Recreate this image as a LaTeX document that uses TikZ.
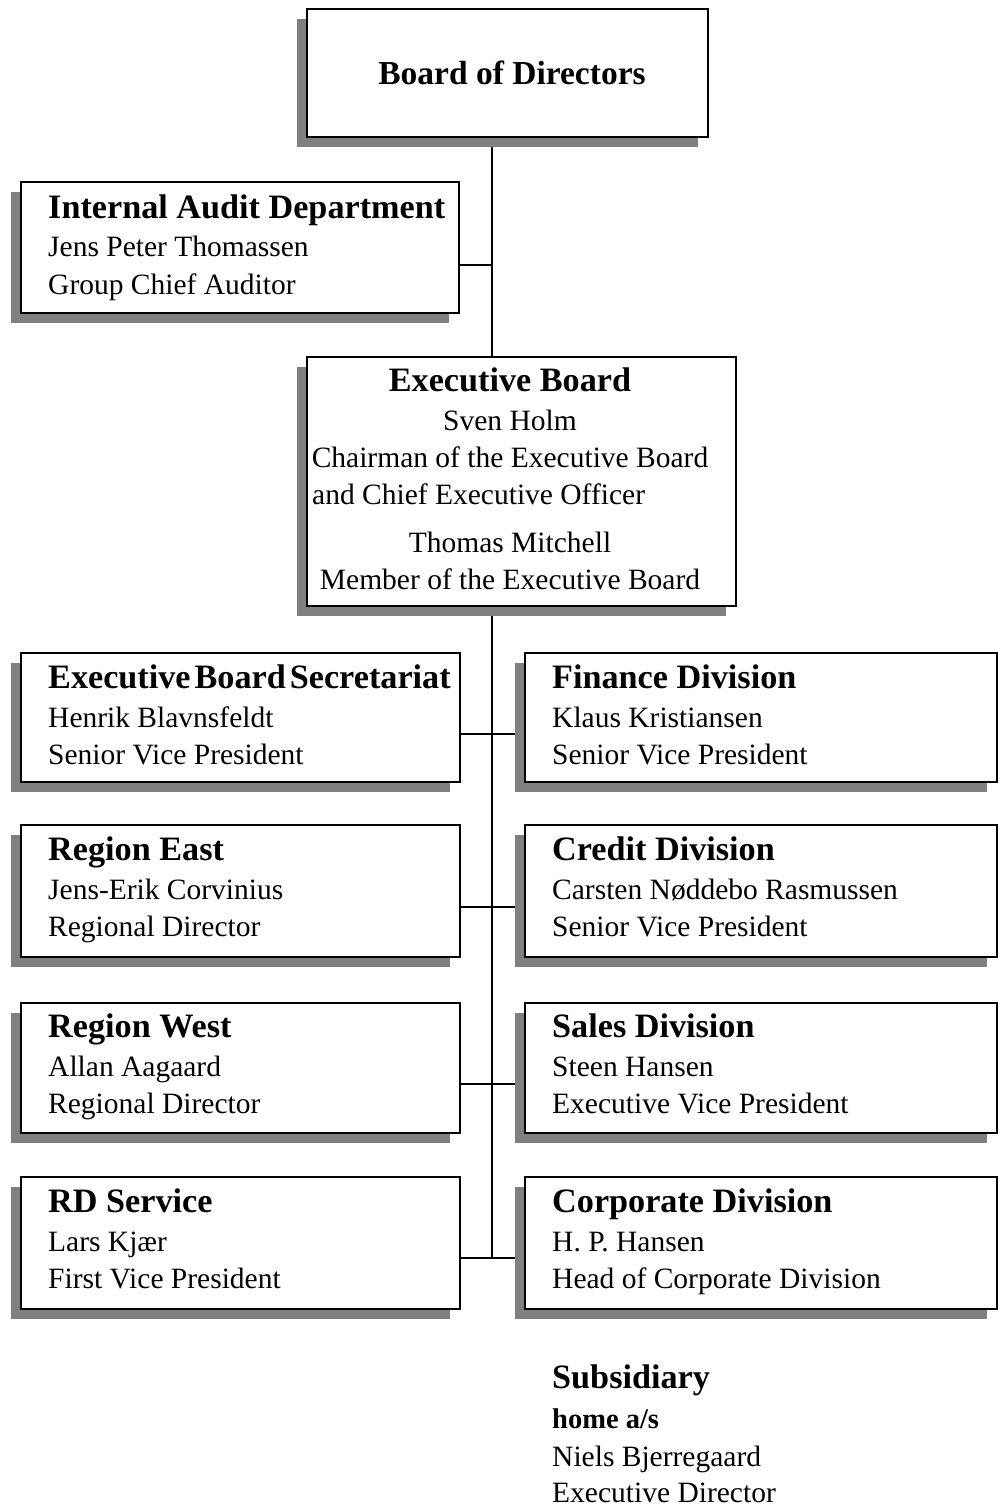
\documentclass[tikz,border=0pt]{standalone}
\usepackage{fontspec}
\setmainfont{Liberation Serif}
\usetikzlibrary{shadows,backgrounds}
\definecolor{shadowgray}{HTML}{808080}
\tikzset{
  orgbox/.style={draw=black, line width=2.4pt, fill=white, rectangle, inner sep=0pt, outer sep=0pt, anchor=north west,
    drop shadow={shadow xshift=-10pt, shadow yshift=-10pt, fill=shadowgray, opacity=1, draw=none}},
  conn/.style={draw=black, line width=2pt},
  ttl/.style={font=\fontsize{34.2}{40}\selectfont\bfseries, inner sep=0pt, anchor=base west},
  bigttl/.style={font=\fontsize{33.5}{40}\selectfont\bfseries, inner sep=0pt, anchor=base},
  sub/.style={font=\fontsize{28.5}{34}\selectfont\bfseries, inner sep=0pt, anchor=base west},
  txt/.style={font=\fontsize{29.5}{36}\selectfont, inner sep=0pt, anchor=base west},
}
\begin{document}
\begin{tikzpicture}[x=1pt,y=-1pt]
\useasboundingbox (0,0) rectangle (1002,1506);
% spine and connector points
\coordinate (cia) at (492,265);
\coordinate (c1) at (492,734);
\coordinate (c2) at (492,907);
\coordinate (c3) at (492,1084);
\coordinate (c4) at (492,1258);
% boxes
\node[orgbox, minimum width=401pt, minimum height=128pt] (bod) at (307,9) {};
\node[orgbox, minimum width=438pt, minimum height=131pt] (ia) at (21,182) {};
\node[orgbox, minimum width=429pt, minimum height=249pt] (eb) at (307,357) {};
\node[orgbox, minimum width=439pt, minimum height=129pt] (sec) at (21,653) {};
\node[orgbox, minimum width=472pt, minimum height=129pt] (fin) at (525,653) {};
\node[orgbox, minimum width=439pt, minimum height=132pt] (rea) at (21,825) {};
\node[orgbox, minimum width=472pt, minimum height=132pt] (cre) at (525,825) {};
\node[orgbox, minimum width=439pt, minimum height=130pt] (rwe) at (21,1003) {};
\node[orgbox, minimum width=472pt, minimum height=130pt] (sal) at (525,1003) {};
\node[orgbox, minimum width=439pt, minimum height=132pt] (rds) at (21,1177) {};
\node[orgbox, minimum width=472pt, minimum height=132pt] (cor) at (525,1177) {};
% connectors behind boxes and shadows
\begin{scope}[on background layer]
\draw[conn] (bod.south -| c4) -- (c4);
\draw[conn] (ia.east |- cia) -- (cia);
\draw[conn] (sec.east |- c1) -- (fin.west |- c1);
\draw[conn] (rea.east |- c2) -- (cre.west |- c2);
\draw[conn] (rwe.east |- c3) -- (sal.west |- c3);
\draw[conn] (rds.east |- c4) -- (cor.west |- c4);
\end{scope}
% texts
\node[bigttl] (tbod) at (512,85) {Board of Directors};

\node[ttl] (tia1) at (48,219) {Internal Audit Department};
\node[txt] (tia2) at (48,257) {Jens Peter Thomassen};
\node[txt] (tia3) at (48,294) {Group Chief Auditor};

\node[ttl, anchor=base] (teb1) at (510,391) {Executive Board};
\node[txt, anchor=base] (teb2) at (510,430) {Sven Holm};
\node[txt, anchor=base] (teb3) at (510,467) {Chairman of the Executive Board};
\node[txt] (teb4) at (312,504) {and Chief Executive Officer};
\node[txt, anchor=base] (teb5) at (510,552) {Thomas Mitchell};
\node[txt, anchor=base] (teb6) at (510,589) {Member of the Executive Board};

\node[ttl] (tsec1) at (48,688) {Executive\hspace{4pt}Board\hspace{4pt}Secretariat};
\node[txt] (tsec2) at (48,727) {Henrik Blavnsfeldt};
\node[txt] (tsec3) at (48,764) {Senior Vice President};

\node[ttl] (tfin1) at (552,688) {Finance Division};
\node[txt] (tfin2) at (552,727) {Klaus Kristiansen};
\node[txt] (tfin3) at (552,764) {Senior Vice President};

\node[ttl] (trea1) at (48,860) {Region East};
\node[txt] (trea2) at (48,899) {Jens-Erik Corvinius};
\node[txt] (trea3) at (48,936) {Regional Director};

\node[ttl] (tcre1) at (552,860) {Credit Division};
\node[txt] (tcre2) at (552,899) {Carsten Nøddebo Rasmussen};
\node[txt] (tcre3) at (552,936) {Senior Vice President};

\node[ttl] (trwe1) at (48,1037) {Region West};
\node[txt] (trwe2) at (48,1076) {Allan Aagaard};
\node[txt] (trwe3) at (48,1113) {Regional Director};

\node[ttl] (tsal1) at (552,1037) {Sales Division};
\node[txt] (tsal2) at (552,1076) {Steen Hansen};
\node[txt] (tsal3) at (552,1113) {Executive Vice President};

\node[ttl] (trds1) at (48,1212) {RD Service};
\node[txt] (trds2) at (48,1251) {Lars Kjær};
\node[txt] (trds3) at (48,1288) {First Vice President};

\node[ttl] (tcor1) at (552,1212) {Corporate Division};
\node[txt] (tcor2) at (552,1251) {H. P. Hansen};
\node[txt] (tcor3) at (552,1288) {Head of Corporate Division};

\node[ttl] (tsub1) at (552,1388) {Subsidiary};
\node[sub] (tsub2) at (552,1428) {home a/s};
\node[txt] (tsub3) at (552,1466) {Niels Bjerregaard};
\node[txt] (tsub4) at (552,1502) {Executive Director};
\end{tikzpicture}
\end{document}
